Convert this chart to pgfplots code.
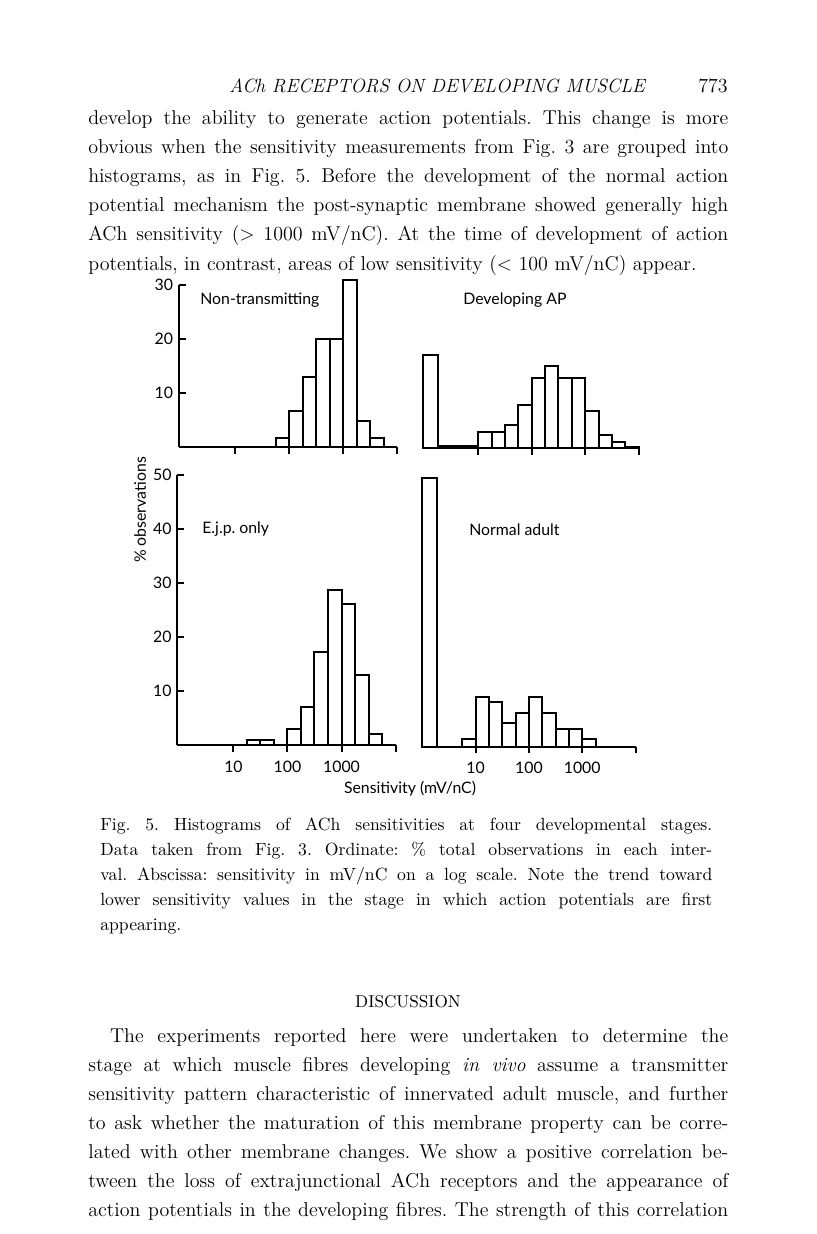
\documentclass[border=0pt]{standalone}
\usepackage{fontspec}
\usepackage{pgfplots}
\pgfplotsset{compat=1.18}
\newfontfamily\cf{Lato}
\frenchspacing
\newcommand\bl[3]{\node[anchor=base west, inner sep=0pt, font=\fontsize{12}{14}\selectfont] at (#1*0.6pt,-#2*0.6pt) {\makebox[384pt][s]{#3}};}
\newcommand\blnat[3]{\node[anchor=base west, inner sep=0pt, font=\fontsize{12}{14}\selectfont] at (#1*0.6pt,-#2*0.6pt) {#3};}
\newcommand\cl[3]{\node[anchor=base west, inner sep=0pt, font=\fontsize{10.6}{12}\selectfont] at (#1*0.6pt,-#2*0.6pt) {\makebox[367.2pt][s]{#3}};}
\newcommand\clnat[3]{\node[anchor=base west, inner sep=0pt, font=\fontsize{10.6}{12}\selectfont] at (#1*0.6pt,-#2*0.6pt) {#3};}
\pgfplotsset{
  hist/.style={
    scale only axis, clip=false, anchor=south west,
    ymin=0, xmax=4,
    xtick={1,2,3,4},
    major tick length=4pt,
    every tick/.style={line width=1.2pt, black},
    ticklabel style={font=\cf\fontsize{9.5}{11}\selectfont},
    xticklabel style={yshift=-2pt},
    /pgf/number format/assume math mode=true,
  },
  noarrows/.style={
    axis line style={line width=1.2pt, -},
    every outer x axis line/.append style={-},
    every outer y axis line/.append style={-},
    every inner x axis line/.append style={-},
    every inner y axis line/.append style={-},
    x axis line style={-}, y axis line style={-},
  },
  bars/.style={ybar interval, draw=black, fill=white, line width=1.2pt},
}
\begin{document}
\begin{tikzpicture}
\fill[white] (0,0) rectangle (489.6pt,-740.4pt);
\path[use as bounding box] (0,0) rectangle (489.6pt,-740.4pt);

% ---------- running head ----------
\node[anchor=base, inner sep=0pt, font=\fontsize{11.5}{13}\selectfont\itshape] at (437*0.6pt,-93*0.6pt) {ACh RECEPTORS ON DEVELOPING MUSCLE};
\node[anchor=base east, inner sep=0pt, font=\fontsize{12}{14}\selectfont] at (728*0.6pt,-93*0.6pt) {773};

% ---------- body text 1 ----------
\bl{88}{125}{develop the ability to generate action potentials. This change is more}
\bl{88}{154}{obvious when the sensitivity measurements from Fig. 3 are grouped into}
\bl{88}{183}{histograms, as in Fig. 5. Before the development of the normal action}
\bl{88}{212}{potential mechanism the post-synaptic membrane showed generally high}
\bl{88}{241}{ACh sensitivity (${>}$ 1000 mV/nC). At the time of development of action}
\blnat{88}{270}{potentials, in contrast, areas of low sensitivity (${<}$ 100 mV/nC) appear.}

% ---------- Top left: Non-transmitting ----------
\begin{axis}[hist, at={(107.4pt,-268.2pt)}, width=130.9pt, height=97.2pt,
  xmin=-0.04, ymax=30,
  axis lines=left, xtick align=outside, ytick align=inside,
  xticklabels={}, ytick={10,20,30}, yticklabels={10,20,30}, noarrows]
\addplot[bars] coordinates {(1.75,1.7) (2,6.7) (2.25,12.9) (2.5,20) (2.75,20) (3,31) (3.25,4.8) (3.5,1.7) (3.75,0)};
\end{axis}

% ---------- Top right: Developing AP ----------
\begin{axis}[hist, at={(253.8pt,-269.0pt)}, width=129.3pt, height=97.2pt,
  xmin=-0.04, ymax=30,
  axis x line=bottom, axis y line=none, xtick align=outside,
  xticklabels={}, ytick=\empty, noarrows]
\addplot[bars] coordinates {(-0.04,17.3) (0.24,0.5) (1,3.1) (1.25,3.1) (1.5,4.3) (1.75,8.1) (2,13.1) (2.25,15.2) (2.5,13.1) (2.75,13.1) (3,7) (3.25,2.4) (3.5,1.1) (3.75,0.3) (4,0)};
\end{axis}

% ---------- Bottom left: E.j.p. only ----------
\begin{axis}[hist, at={(106.4pt,-447.0pt)}, width=130.9pt, height=162.3pt,
  xmin=-0.04, ymax=50,
  axis lines=left, xtick align=outside, ytick align=inside,
  xticklabels={10,100,1000,}, ytick={10,20,30,40,50}, yticklabels={10,20,30,40,50}, noarrows]
\addplot[bars] coordinates {(1.25,1) (1.5,1) (1.75,0) (2,2.9) (2.25,7) (2.5,17.2) (2.75,28.7) (3,26) (3.25,12.9) (3.5,2) (3.75,0)};
\end{axis}

% ---------- Bottom right: Normal adult ----------
\begin{axis}[hist, at={(253.4pt,-447.9pt)}, width=127.9pt, height=162.3pt,
  xmin=0, ymax=50,
  axis x line=bottom, axis y line=none, xtick align=outside,
  xticklabels={10,100,1000,}, ytick=\empty, noarrows]
\addplot[bars] coordinates {(0,49.6) (0.27,0) (0.75,1.3) (1,9.1) (1.25,8.2) (1.5,4.3) (1.75,6.2) (2,9.1) (2.25,6.2) (2.5,3.2) (2.75,3.2) (3,1.4) (3.25,0)};
\end{axis}

% ---------- panel labels ----------
\begin{scope}[every node/.style={inner sep=0pt, font=\cf\fontsize{9.5}{11}\selectfont}]
\node[anchor=west] at (200*0.6pt,-300*0.6pt) {Non-transmitting};
\node[anchor=west] at (463*0.6pt,-300*0.6pt) {Developing AP};
\node[anchor=west] at (202*0.6pt,-529*0.6pt) {E.j.p. only};
\node[anchor=west] at (469*0.6pt,-530*0.6pt) {Normal adult};
\node[rotate=90] at (140*0.6pt,-510*0.6pt) {\% observations};
\node at (410*0.6pt,-789*0.6pt) {Sensitivity (mV/nC)};
\end{scope}

% ---------- caption ----------
\cl{100}{830}{Fig. 5. Histograms of ACh sensitivities at four developmental stages.}
\cl{100}{855}{Data taken from Fig. 3. Ordinate: \% total observations in each inter-}
\cl{100}{880}{val. Abscissa: sensitivity in mV/nC on a log scale. Note the trend toward}
\cl{100}{905}{lower sensitivity values in the stage in which action potentials are first}
\clnat{100}{930}{appearing.}

\node[anchor=base, inner sep=0pt, font=\fontsize{10.3}{12}\selectfont] at (408*0.6pt,-1007*0.6pt) {DISCUSSION};

% ---------- body text 2 ----------
\bl{88}{1042}{\hspace*{13pt}The experiments reported here were undertaken to determine the}
\bl{88}{1071}{stage at which muscle fibres developing \textit{in vivo} assume a transmitter}
\bl{88}{1100}{sensitivity pattern characteristic of innervated adult muscle, and further}
\bl{88}{1129}{to ask whether the maturation of this membrane property can be corre-}
\bl{88}{1158}{lated with other membrane changes. We show a positive correlation be-}
\bl{88}{1187}{tween the loss of extrajunctional ACh receptors and the appearance of}
\bl{88}{1216}{action potentials in the developing fibres. The strength of this correlation}
\end{tikzpicture}
\end{document}
